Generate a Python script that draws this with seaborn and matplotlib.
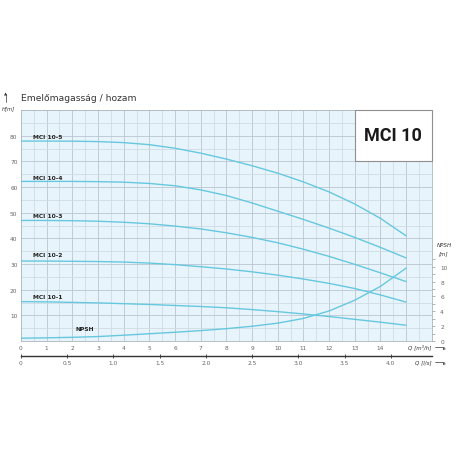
import numpy as np
import pandas as pd
import matplotlib
matplotlib.use("Agg")
import matplotlib.pyplot as plt
import seaborn as sns
from matplotlib.patches import Rectangle

# Q in m3/h
q = [0, 1, 2, 3, 4, 5, 6, 7, 8, 9, 10, 11, 12, 13, 14, 15]

# head curves H [m]
h_10_5 = [77.9, 77.9, 77.85, 77.7, 77.3, 76.5, 75.1, 73.2, 70.9, 68.3, 65.4, 62.0, 58.1, 53.4, 47.8, 41.0]
h_10_4 = [62.2, 62.2, 62.2, 62.1, 61.9, 61.4, 60.5, 58.9, 56.7, 53.8, 50.6, 47.4, 44.0, 40.4, 36.5, 32.4]
h_10_3 = [47.0, 47.0, 46.9, 46.7, 46.3, 45.7, 44.8, 43.7, 42.2, 40.4, 38.3, 35.8, 33.0, 29.9, 26.6, 23.2]
h_10_2 = [31.2, 31.2, 31.1, 31.0, 30.8, 30.4, 29.8, 29.0, 28.1, 27.0, 25.7, 24.2, 22.5, 20.5, 18.0, 15.2]
h_10_1 = [15.4, 15.3, 15.1, 14.9, 14.6, 14.3, 13.9, 13.5, 13.0, 12.3, 11.5, 10.6, 9.6, 8.5, 7.4, 6.2]

# NPSH [m]
npsh = [0.40, 0.45, 0.52, 0.62, 0.80, 1.0, 1.2, 1.42, 1.68, 2.0, 2.42, 3.05, 4.05, 5.5, 7.35, 9.8]

pumps = ["MCI 10-1", "MCI 10-2", "MCI 10-3", "MCI 10-4", "MCI 10-5"]
label_h = [17.4, 33.6, 48.9, 63.9, 79.8]

x_ticks = list(range(0, 15))
ls_ticks = [0, 0.5, 1.0, 1.5, 2.0, 2.5, 3.0, 3.5, 4.0]
ls_labels = ["0", "0.5", "1.0", "1.5", "2.0", "2.5", "3.0", "3.5", "4.0"]
npsh_ticks = [0, 2, 4, 6, 8, 10]

curve_col = "#66c8df"
grid_major = "#b9c6cf"
grid_minor = "#cfdbe2"
txt_col = "#333333"
tick_col = "#666666"

sns.set_theme(style="white")
plt.rcParams['font.family'] = ['DejaVu Sans']

df = pd.DataFrame({
    "Q": q * 5,
    "H": h_10_1 + h_10_2 + h_10_3 + h_10_4 + h_10_5,
    "pump": [p for p in pumps for _ in q],
})

fig = plt.figure(figsize=(4.56, 4.56), dpi=100)
ax = fig.add_axes([0.046, 0.2496, 0.901, 0.507])
ax.set_facecolor("#e8f4fb")

sns.lineplot(data=df, x="Q", y="H", hue="pump", palette=[curve_col] * 5,
             legend=False, linewidth=1.0, ax=ax, zorder=3)

ax.set_xlim(0, 16)
ax.set_ylim(0, 90)

# grid
for v in np.arange(0.5, 16, 0.5):
    ax.axvline(v, color=grid_major if v % 1 == 0 else grid_minor, lw=0.6, zorder=1)
for v in np.arange(5, 90, 5):
    ax.axhline(v, color=grid_major if v % 10 == 0 else grid_minor, lw=0.6, zorder=1)

ax.set_xticks(x_ticks)
ax.set_xticklabels([str(t) for t in x_ticks])
ax.set_yticks([10, 20, 30, 40, 50, 60, 70, 80])
ax.tick_params(axis="both", length=0, labelsize=4.2, colors=tick_col, pad=2.5)
ax.set_xlabel("")
ax.set_ylabel("")
for s in ax.spines.values():
    s.set_color("#a9b4ba")
    s.set_linewidth(0.6)

# pump labels
for name, hy in zip(pumps, label_h):
    ax.text(0.47, hy, name, fontsize=4.3, fontweight="bold", color="#222222",
            va="center", ha="left", zorder=5)
ax.text(2.5, 5.1, "NPSH", fontsize=4.3, fontweight="bold", color="#222222",
        va="center", ha="center", zorder=5)

# MCI 10 box
ax.add_patch(Rectangle((13, 70), 3, 20, facecolor="white", edgecolor="#8f8f8f",
                       lw=0.8, zorder=6, clip_on=False))
ax.text(14.5, 80.4, "MCI 10", fontsize=13, fontweight="bold", color="#1a1a1a",
        family=["Roboto", "DejaVu Sans"],
        ha="center", va="center", zorder=7)

# NPSH on right axis
ax2 = ax.twinx()
ax2.set_ylim(0, 31.0)
sns.lineplot(x=q, y=npsh, color=curve_col, linewidth=1.0, ax=ax2)
ax2.set_yticks(npsh_ticks)
ax2.set_yticks(range(0, 12), minor=True)
ax2.tick_params(axis="y", which="major", length=2, width=0.5, color="#999999",
                labelsize=4.2, labelcolor=tick_col, pad=4)
ax2.tick_params(axis="y", which="minor", length=2, width=0.5, color="#999999")
for s in ax2.spines.values():
    s.set_visible(False)
ax2.set_ylabel("")

# secondary x axis in l/s
sec = ax.secondary_xaxis(-0.062, functions=(lambda x: x / 3.6, lambda x: x * 3.6))
sec.set_xticks(ls_ticks)
sec.set_xticklabels(ls_labels)
sec.tick_params(length=3, width=0.6, direction="inout", color="#333333",
                labelsize=4.2, labelcolor=tick_col, pad=2)
sec.spines["bottom"].set_color("#333333")
sec.spines["bottom"].set_linewidth(1.0)

# texts in figure
fig.text(0.046, 1 - 99 / 456, "Emelőmagasság / hozam", fontsize=6.6, color=txt_col,
         va="center", ha="left")
fig.text(0.018, 1 - 109 / 456, "H[m]", fontsize=3.8, style="italic", color=txt_col,
         va="center", ha="center")
fig.add_artist(plt.Line2D([6 / 456, 6 / 456], [1 - 103 / 456, 1 - 95 / 456],
                          color="#333333", lw=0.5))
fig.text(6 / 456, 1 - 95 / 456, "▲", fontsize=3, color="#333333", ha="center", va="center")

fig.text(431.7 / 456, 1 - 347.7 / 456, "Q [m³/h]", fontsize=4.0, style="italic",
         color=txt_col, ha="right", va="center")
fig.text(431.7 / 456, 1 - 362.7 / 456, "Q [l/s]", fontsize=4.0, style="italic",
         color=txt_col, ha="right", va="center")
for yy in (347.7, 362.7):
    fig.add_artist(plt.Line2D([435 / 456, 444 / 456], [1 - yy / 456, 1 - yy / 456],
                              color="#333333", lw=0.5))
    fig.text(445 / 456, 1 - yy / 456, "►", fontsize=3, color="#333333",
             ha="center", va="center")

fig.text(444 / 456, 1 - 246 / 456, "NPSH", fontsize=4.0, style="italic",
         color=txt_col, ha="center", va="center")
fig.text(444 / 456, 1 - 253.5 / 456, "[m]", fontsize=4.0, style="italic",
         color=txt_col, ha="center", va="center")

fig.savefig("out.png", dpi=100, facecolor="white")
